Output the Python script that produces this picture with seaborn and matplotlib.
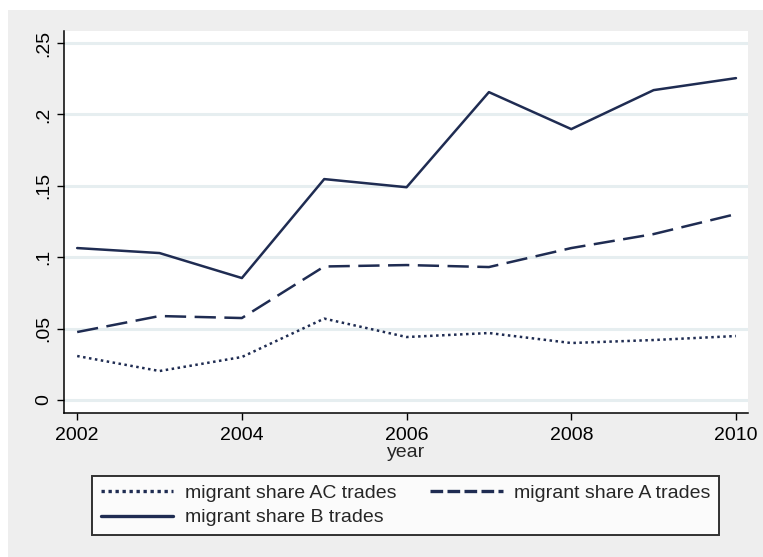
import numpy as np
import pandas as pd
import matplotlib
matplotlib.use("Agg")
import matplotlib.pyplot as plt
import seaborn as sns
from matplotlib.lines import Line2D
from matplotlib.patches import Rectangle

# Values
years = [2002, 2003, 2004, 2005, 2006, 2007, 2008, 2009, 2010]
share_ac = [0.0308, 0.0203, 0.0301, 0.0570, 0.0441, 0.0469, 0.0399, 0.0420, 0.0448]
share_a = [0.0476, 0.0588, 0.0574, 0.0935, 0.0945, 0.0931, 0.1064, 0.1162, 0.1302]
share_b = [0.1064, 0.1029, 0.0854, 0.1547, 0.1490, 0.2156, 0.1897, 0.2170, 0.2254]
labels = ["migrant share AC trades", "migrant share A trades", "migrant share B trades"]
ytick_vals = [0, 0.05, 0.1, 0.15, 0.2, 0.25]
ytick_labels = ["0", ".05", ".1", ".15", ".2", ".25"]

df = pd.DataFrame({
    "year": years * 3,
    "share": share_ac + share_a + share_b,
    "series": [labels[0]] * 9 + [labels[1]] * 9 + [labels[2]] * 9,
})

sns.set_style("white")
plt.rcParams["font.family"] = ["Liberation Sans", "DejaVu Sans"]

navy = "#1f2c52"
W, H = 763, 557
fig = plt.figure(figsize=(W / 100, H / 100), dpi=100)
fig.patch.set_facecolor("white")
# Stata-like gray graph region
fig.patches.append(Rectangle((8 / W, 0), 1, 1 - 10 / H, transform=fig.transFigure,
                             facecolor="#eeeeee", edgecolor="none", zorder=-10))

ax = fig.add_axes([64 / W, (H - 413) / H, (748 - 64) / W, (413 - 31) / H])
ax.set_facecolor("white")

dash_map = {labels[0]: (1, 1.4), labels[1]: (8.5, 3.4), labels[2]: ""}
sns.lineplot(data=df, x="year", y="share", hue="series", style="series",
             palette={l: navy for l in labels}, dashes=dash_map,
             linewidth=1.8, legend=False, ax=ax)

ax.set_xlim(2001.84, 2010.146)
ax.set_ylim(-0.0091, 0.2584)
ax.set_xticks([2002, 2004, 2006, 2008, 2010])
ax.set_yticks(ytick_vals)
ax.set_yticklabels(ytick_labels, rotation=90, va="center")
ax.tick_params(axis="both", which="major", direction="out", length=5, width=1,
               color="black", labelsize=14, labelcolor="black", pad=5,
               left=True, bottom=True)
ax.tick_params(axis="y", pad=3.5)
ax.set_xlabel("year", fontsize=14, labelpad=0)
ax.set_ylabel("")
ax.grid(axis="y", color="#e6eef0", linewidth=2.2)
ax.grid(axis="x", visible=False)
for side in ["top", "right"]:
    ax.spines[side].set_visible(False)
for side in ["left", "bottom"]:
    ax.spines[side].set_color("black")
    ax.spines[side].set_linewidth(1.1)

handles = [
    Line2D([], [], color=navy, lw=2.4, dashes=(1, 1.1)),
    Line2D([], [], color=navy, lw=2.4),
    Line2D([], [], color=navy, lw=2.4, dashes=(3.8, 1.3)),
]
leg = fig.legend(handles, [labels[0], labels[2], labels[1]], ncol=2,
                 loc="center", bbox_to_anchor=(405.5 / W, 1 - 505.5 / H),
                 fontsize=14, frameon=True, fancybox=False, handlelength=3.75,
                 handletextpad=0.57, columnspacing=1.75, labelspacing=0.34,
                 borderpad=0.45, borderaxespad=0)
leg.get_frame().set_edgecolor("black")
leg.get_frame().set_linewidth(1.4)
leg.get_frame().set_facecolor("white")

fig.savefig("out.png", dpi=100)
